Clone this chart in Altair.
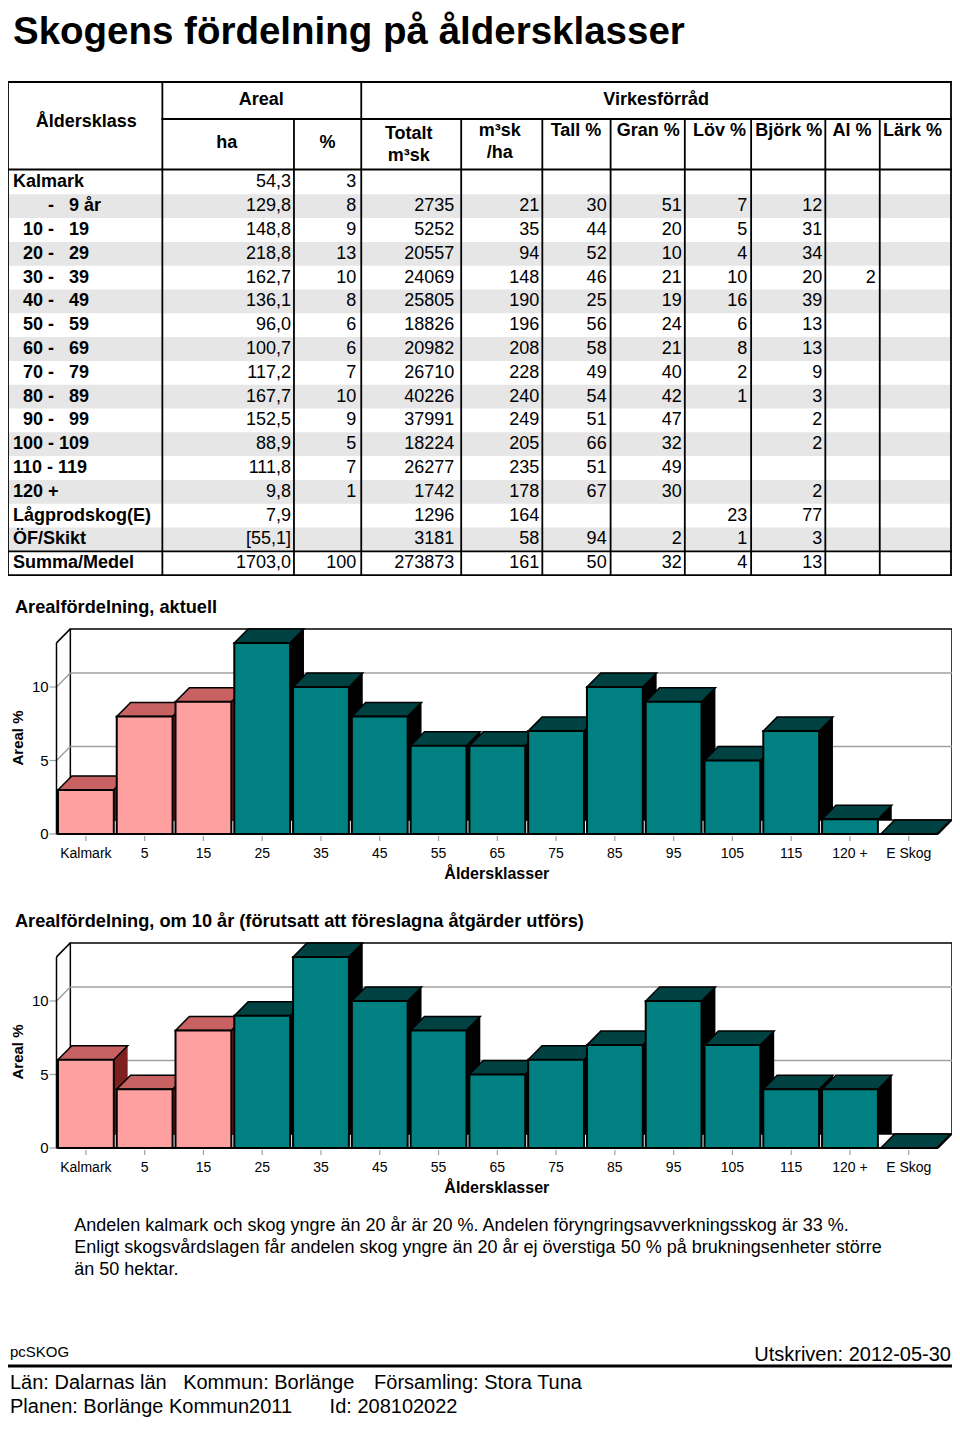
import altair as alt
import pandas as pd

# ---------------- data ----------------
TITLE = "Skogens fördelning på åldersklasser"

ROWS = ["Kalmark", "- 9 år", "10 - 19", "20 - 29", "30 - 39", "40 - 49",
        "50 - 59", "60 - 69", "70 - 79", "80 - 89", "90 - 99", "100 - 109",
        "110 - 119", "120 +", "Lågprodskog(E)", "ÖF/Skikt", "Summa/Medel"]
HA = ["54,3", "129,8", "148,8", "218,8", "162,7", "136,1", "96,0", "100,7",
      "117,2", "167,7", "152,5", "88,9", "111,8", "9,8", "7,9", "[55,1]", "1703,0"]
PCT = [3, 8, 9, 13, 10, 8, 6, 6, 7, 10, 9, 5, 7, 1, None, None, 100]
TOTALT = [None, 2735, 5252, 20557, 24069, 25805, 18826, 20982, 26710, 40226,
          37991, 18224, 26277, 1742, 1296, 3181, 273873]
M3HA = [None, 21, 35, 94, 148, 190, 196, 208, 228, 240, 249, 205, 235, 178, 164, 58, 161]
TALL = [None, 30, 44, 52, 46, 25, 56, 58, 49, 54, 51, 66, 51, 67, None, 94, 50]
GRAN = [None, 51, 20, 10, 21, 19, 24, 21, 40, 42, 47, 32, 49, 30, None, 2, 32]
LOV = [None, 7, 5, 4, 10, 16, 6, 8, 2, 1, None, None, None, None, 23, 1, 4]
BJORK = [None, 12, 31, 34, 20, 39, 13, 13, 9, 3, 2, 2, None, 2, 77, 3, 13]
AL = [None, None, None, None, 2, None, None, None, None, None, None, None, None, None, None, None, None]
LARK = [None] * 17

HEADERS = ["Åldersklass", "Areal", "Virkesförråd", "ha", "%", "Totalt", "m³sk",
           "m³sk", "/ha", "Tall %", "Gran %", "Löv %", "Björk %", "Al %", "Lärk %"]

CATS = ["Kalmark", "5", "15", "25", "35", "45", "55", "65", "75", "85", "95",
        "105", "115", "120 +", "E Skog"]
AKTUELL = [3, 8, 9, 13, 10, 8, 6, 6, 7, 10, 9, 5, 7, 1, 0]
OM10 = [6, 4, 8, 9, 13, 10, 8, 5, 6, 7, 10, 7, 4, 4, 0]
YOUNG = ["Kalmark", "5", "15"]
Y_TICKS = [0, 5, 10]

CHART1_TITLE = "Arealfördelning, aktuell"
CHART2_TITLE = "Arealfördelning, om 10 år (förutsatt att föreslagna åtgärder utförs)"
Y_TITLE = "Areal %"
X_TITLE = "Åldersklasser"
NOTES = ["Andelen kalmark och skog yngre än 20 år är 20 %. Andelen föryngringsavverkningsskog är 33 %.",
         "Enligt skogsvårdslagen får andelen skog yngre än 20 år ej överstiga 50 % på brukningsenheter större",
         "än 50 hektar."]
FOOT_PROG = "pcSKOG"
FOOT_DATE = "Utskriven: 2012-05-30"
FOOT_LINE1 = ["Län: Dalarnas län", "Kommun: Borlänge", "Församling: Stora Tuna"]
FOOT_LINE2 = ["Planen: Borlänge Kommun2011", "Id: 208102022"]

# ---------------- layout / style ----------------
W, H = 944, 1410
SX = 943 / 953
FONT = "Liberation Sans"
NB = "\u00a0"
ZW = "\u200b"  # keeps leading non-breaking spaces from being trimmed

PINK, PINK_TOP, PINK_SIDE = "#FFA0A0", "#C86262", "#7E2020"
TEAL, TEAL_TOP, TEAL_SIDE = "#008080", "#004242", "#000000"
GRID = "#A0A0A0"
STRIPE = "#E6E6E6"


def X(xr):
    return round((xr - 3) * SX, 2)


def Y(yr):
    return yr - 3


def YF(yr):
    return yr - 20


ONE = alt.Data(values=[{"k": 0}])


def txt(s, x, y, size=18, bold=True, align="center", baseline="middle", angle=None,
        font=FONT, color="black"):
    kw = dict(text=s, align=align, baseline=baseline, fontSize=size,
              fontWeight="bold" if bold else "normal", font=font, color=color)
    if angle is not None:
        kw["angle"] = angle
    return alt.Chart(ONE).mark_text(**kw).encode(x=alt.value(x), y=alt.value(y))


def seg(x1, y1, x2, y2, w=1.8, color="black"):
    return alt.Chart(ONE).mark_rule(color=color, strokeWidth=w, strokeCap="square").encode(
        x=alt.value(x1), x2=alt.value(x2), y=alt.value(y1), y2=alt.value(y2))


def fmt(v):
    if v is None:
        return ""
    return str(v)


def disp(label):
    if label == "- 9 år":
        return ZW + NB * 7 + "-" + NB * 3 + "9 år"
    parts = label.split(" - ")
    if len(parts) == 2:
        a, b = parts
        return ZW + NB * 2 * (3 - len(a)) + a + NB + "-" + NB + NB * 2 * (3 - len(b)) + b
    return label


# ---------------- table ----------------
TOP, MID, HDR = 77, 114, 164.5
ROW0, ROWH = 165.5, 23.8
BOT = ROW0 + 17 * ROWH
SUMY = ROW0 + 16 * ROWH

tbl = pd.DataFrame({"row": ROWS, "disp": [disp(r) for r in ROWS]})
row_scale = alt.Scale(domain=ROWS, range=[Y(ROW0), Y(BOT)], paddingInner=0, paddingOuter=0)
ry = alt.Y("row:N", scale=row_scale, axis=None)

table_layers = []
table_layers.append(
    alt.Chart(tbl.iloc[1::2]).mark_rect(color=STRIPE).encode(
        y=ry, x=alt.value(X(3)), x2=alt.value(X(956))))
table_layers.append(
    alt.Chart(tbl).mark_text(align="left", baseline="middle", fontSize=18,
                             fontWeight="bold", font=FONT, color="black").encode(
        y=ry, x=alt.value(X(8)), text="disp:N"))

COLS = [(HA, 289), (PCT, 355), (TOTALT, 454), (M3HA, 540), (TALL, 608), (GRAN, 684),
        (LOV, 750), (BJORK, 826), (AL, 880), (LARK, 952)]
for vals, xr in COLS:
    d = pd.DataFrame({"row": ROWS, "val": [fmt(v) for v in vals]})
    d = d[d.val != ""]
    if len(d) == 0:
        continue
    table_layers.append(
        alt.Chart(d).mark_text(align="right", baseline="middle", fontSize=18,
                               font=FONT, color="black").encode(
            y=ry, x=alt.value(X(xr)), text="val:N"))

# grid lines of the table
for yr, x1r in [(TOP, 3), (MID, 159), (HDR, 3), (SUMY, 3), (BOT, 3)]:
    table_layers.append(seg(X(x1r), Y(yr), X(956), Y(yr)))
for xr in [3, 159, 360, 956]:
    table_layers.append(seg(X(xr), Y(TOP), X(xr), Y(BOT)))
for xr in [292, 461, 543, 612, 687, 754, 829, 884]:
    table_layers.append(seg(X(xr), Y(MID), X(xr), Y(BOT)))

HDR_POS = [(82, 116.5), (259, 94.5), (658, 94.5), (224, 137.5), (326, 137.5),
           (408, 129), (408, 151), (500, 126), (500, 148), (577, 126), (650, 126),
           (722, 126), (792, 126), (856, 126), (917, 126)]
for s, (xr, yr) in zip(HEADERS, HDR_POS):
    table_layers.append(txt(s, X(xr), Y(yr), size=18))

table = alt.layer(*table_layers)

# ---------------- 3D bar charts ----------------
PI, PO = 0.05, 0.025
N = len(CATS)
XL, XR = X(52), X(943)
STEP = (XR - XL) / (N - PI + 2 * PO)
BW = STEP * (1 - PI)
DX = 14 * SX
DY = 14.0
PXU = 14.7
S = (BW + DX) / 2
_yy = DY / (2 * S)
_xa = (BW - DX) / (2 * S)
TOP_SHAPE = f"M-1,{_yy:.4f}L{_xa:.4f},{_yy:.4f}L1,{-_yy:.4f}L{-_xa:.4f},{-_yy:.4f}Z"
TOP_SIZE = (2 * S) ** 2


def bar_chart(values, y0r, title):
    df = pd.DataFrame({"cat": CATS, "v": values,
                       "grp": ["ung" if c in YOUNG else "old" for c in CATS]})
    tk = pd.DataFrame({"t": Y_TICKS, "lab": [str(t) for t in Y_TICKS]})
    tkg = tk[tk.t > 0]
    xs = alt.Scale(domain=CATS, range=[XL, XR], paddingInner=PI, paddingOuter=PO)
    ys = alt.Scale(domain=[0, 13], range=[Y(y0r), Y(y0r) - 13 * PXU], nice=False)
    xe = alt.X("cat:N", scale=xs, axis=None)
    ye = alt.Y("v:Q", scale=ys, axis=None)
    young = alt.datum.grp == "ung"

    wall = alt.Chart(ONE).mark_rect(fill="white", stroke="black", strokeWidth=1.5,
                                    yOffset=-DY, y2Offset=-DY).encode(
        x=alt.value(XL + DX), x2=alt.value(XR + DX),
        y=alt.YDatum(13, scale=ys, axis=None), y2=alt.Y2Datum(0))
    grid_h = alt.Chart(tkg).mark_rule(color=GRID, strokeWidth=1.5, yOffset=-DY).encode(
        x=alt.value(XL + DX), x2=alt.value(XR + DX), y=alt.Y("t:Q", scale=ys, axis=None))
    grid_s = alt.Chart(tkg).mark_rule(color=GRID, strokeWidth=1.5, y2Offset=-DY).encode(
        x=alt.value(XL), x2=alt.value(XL + DX), y=alt.Y("t:Q", scale=ys, axis=None),
        y2=alt.Y2("t"))
    corner = alt.Chart(ONE).mark_rule(color="black", strokeWidth=1.5, y2Offset=-DY).encode(
        x=alt.value(XL), x2=alt.value(XL + DX), y=alt.YDatum(13, scale=ys, axis=None),
        y2=alt.Y2Datum(13))
    ytick = alt.Chart(tk).mark_rule(color=GRID, strokeWidth=1.2).encode(
        x=alt.value(X(45)), x2=alt.value(XL), y=alt.Y("t:Q", scale=ys, axis=None))
    ylab = alt.Chart(tk).mark_text(align="right", baseline="middle", fontSize=15,
                                   font=FONT, color="black").encode(
        x=alt.value(X(44)), y=alt.Y("t:Q", scale=ys, axis=None), text="lab:N")
    sides = alt.Chart(df).mark_rule(strokeWidth=DX, strokeCap="butt", xOffset=BW / 2 + DX / 2,
                                    yOffset=-DY, y2Offset=-DY).encode(
        x=xe, y=ye, y2=alt.Y2Datum(0),
        stroke=alt.condition(young, alt.value(PINK_SIDE), alt.value(TEAL_SIDE)))
    tops = alt.Chart(df).mark_point(shape=TOP_SHAPE, size=TOP_SIZE, filled=True, opacity=1,
                                    stroke="black", strokeWidth=1.5,
                                    xOffset=DX / 2, yOffset=-DY / 2).encode(
        x=xe, y=ye,
        fill=alt.condition(young, alt.value(PINK_TOP), alt.value(TEAL_TOP)))
    fronts = alt.Chart(df).mark_bar(stroke="black", strokeWidth=2).encode(
        x=xe, y=ye,
        fill=alt.condition(young, alt.value(PINK), alt.value(TEAL)))
    front_axis = alt.Chart(ONE).mark_rule(color="black", strokeWidth=1.5).encode(
        x=alt.value(XL), y=alt.YDatum(0, scale=ys, axis=None), y2=alt.Y2Datum(13))
    floor = alt.Chart(ONE).mark_rule(color="black", strokeWidth=2).encode(
        x=alt.value(XL), x2=alt.value(XR), y=alt.YDatum(0, scale=ys, axis=None))
    br = alt.Chart(ONE).mark_rule(color="black", strokeWidth=1.5, y2Offset=-DY).encode(
        x=alt.value(XR), x2=alt.value(XR + DX), y=alt.YDatum(0, scale=ys, axis=None),
        y2=alt.Y2Datum(0))
    xtick = alt.Chart(df).mark_rule(color=GRID, strokeWidth=1.2, yOffset=2, y2Offset=7).encode(
        x=xe, y=alt.YDatum(0, scale=ys, axis=None), y2=alt.Y2Datum(0))
    xlab = alt.Chart(df).mark_text(baseline="middle", fontSize=14, font=FONT,
                                   color="black", yOffset=20).encode(
        x=xe, y=alt.YDatum(0, scale=ys, axis=None), text="cat:N")
    t_y = txt(Y_TITLE, X(13), Y(y0r - 96), size=15, angle=270)
    t_x = txt(X_TITLE, X(497), Y(y0r + 40), size=16)
    t_c = txt(title, X(10), Y(y0r - 226), size=18.2, align="left")
    return alt.layer(wall, grid_h, grid_s, corner, ytick, ylab, sides, tops, fronts,
                     front_axis, floor, br, xtick, xlab, t_y, t_x, t_c)


chart1 = bar_chart(AKTUELL, 829, CHART1_TITLE)
chart2 = bar_chart(OM10, 1143, CHART2_TITLE)

# ---------------- texts ----------------
texts = [txt(TITLE, X(8), 36, size=38.5, align="left", baseline="alphabetic")]
for s, yr in zip(NOTES, [1221, 1243, 1265]):
    texts.append(txt(s, X(70), Y(yr), size=18, bold=False, align="left"))
texts.append(txt(FOOT_PROG, X(5), YF(1364), size=15, bold=False, align="left"))
texts.append(txt(FOOT_DATE, X(956), YF(1367), size=20, bold=False, align="right"))
texts.append(seg(X(3), YF(1378), X(956), YF(1378), w=3))
for s, xr in zip(FOOT_LINE1, [5, 180, 373]):
    texts.append(txt(s, X(xr), YF(1395), size=20, bold=False, align="left"))
for s, xr in zip(FOOT_LINE2, [5, 328]):
    texts.append(txt(s, X(xr), YF(1419), size=20, bold=False, align="left"))

chart = alt.layer(table, chart1, chart2, *texts).resolve_scale(
    x="independent", y="independent"
).properties(
    width=W, height=H, padding=0, background="white",
    autosize=alt.AutoSizeParams(type="none")
).configure_view(stroke=None)

chart.save("out.html", embed_options={"renderer": "svg", "actions": False})
